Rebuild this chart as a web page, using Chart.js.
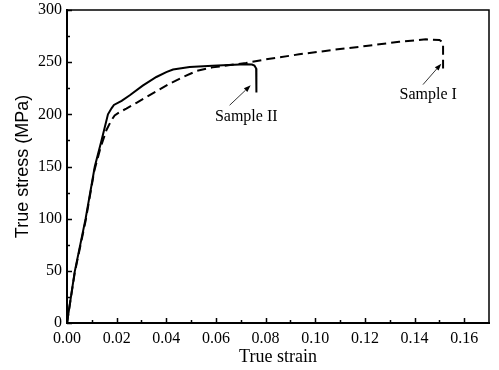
<!DOCTYPE html>
<html>
<head>
<meta charset="utf-8">
<script src="https://cdn.jsdelivr.net/npm/chart.js@4.4.1/dist/chart.umd.min.js"></script>
<style>
  html, body { margin: 0; padding: 0; background: #fff; }
  #wrap { width: 499px; height: 370px; }
</style>
</head>
<body>
<div id="wrap"><canvas id="c" width="499" height="370"></canvas></div>
<script>
// ---- Data ----
const sampleIIStrain = [0, 0.0031, 0.0075, 0.0112, 0.0139, 0.0165, 0.0180, 0.0189, 0.0220, 0.0253, 0.0305, 0.0360, 0.0400, 0.0427, 0.0494, 0.0586, 0.0650, 0.0721, 0.0745, 0.0755, 0.0762, 0.0763];
const sampleIIStress = [0, 49, 100, 150, 175, 200, 206, 209, 213, 218.3, 227.5, 235.8, 240.5, 243, 245.3, 246.5, 247.3, 248, 247.8, 246.8, 244, 221];

const sampleIStrain = [0, 0.0031, 0.0075, 0.0110, 0.0135, 0.0159, 0.0178, 0.0192, 0.0215, 0.0239, 0.0280, 0.0320, 0.0367, 0.0414, 0.0470, 0.0521, 0.0586, 0.0650, 0.0721, 0.0801, 0.0935, 0.1070, 0.1204, 0.1338, 0.1446, 0.1500, 0.1512, 0.1515, 0.1515];
const sampleIStress = [0, 48, 98, 146, 168, 185, 194, 199, 202.5, 205.5, 211, 216.6, 223, 229.4, 236, 241.5, 245, 247, 249.2, 252.7, 257.5, 261.7, 265.5, 269.6, 271.9, 271.3, 269.5, 266, 244];

const xTickValues = [0, 0.02, 0.04, 0.06, 0.08, 0.10, 0.12, 0.14, 0.16];
const xMinorValues = [0.01, 0.03, 0.05, 0.07, 0.09, 0.11, 0.13, 0.15];
const yTickValues = [0, 50, 100, 150, 200, 250, 300];
const yMinorValues = [25, 75, 125, 175, 225, 275];

const xTitle = 'True strain';
const yTitle = 'True stress (MPa)';

// Annotation labels (data coordinates): [text, labelX, labelY, arrowFromX, arrowFromY, arrowToX, arrowToY]
const annotations = [
  ['Sample II', 0.0722, 197.5, 0.0655, 208.7, 0.0740, 227.8],
  ['Sample I', 0.1455, 218.5, 0.1434, 228.5, 0.1508, 248.6]
];

const toXY = (xs, ys) => xs.map((x, i) => ({ x: x, y: ys[i] }));

const frameAndTicks = {
  id: 'frameAndTicks',
  afterDatasetsDraw(chart) {
    const { ctx, chartArea: a, scales: { x, y } } = chart;
    ctx.save();
    ctx.strokeStyle = '#000';
    // top and right frame
    ctx.lineWidth = 1.5;
    ctx.beginPath();
    ctx.moveTo(a.left, a.top); ctx.lineTo(a.right, a.top); ctx.lineTo(a.right, a.bottom);
    ctx.stroke();
    // inside ticks
    ctx.lineWidth = 1.5;
    ctx.beginPath();
    xTickValues.forEach(v => { const px = Math.round(x.getPixelForValue(v)) + 0.5; ctx.moveTo(px, a.bottom); ctx.lineTo(px, a.bottom - 5); });
    xMinorValues.forEach(v => { const px = Math.round(x.getPixelForValue(v)) + 0.5; ctx.moveTo(px, a.bottom); ctx.lineTo(px, a.bottom - 3); });
    yTickValues.forEach(v => { const py = Math.round(y.getPixelForValue(v)) + 0.5; ctx.moveTo(a.left, py); ctx.lineTo(a.left + 5, py); });
    yMinorValues.forEach(v => { const py = Math.round(y.getPixelForValue(v)) + 0.5; ctx.moveTo(a.left, py); ctx.lineTo(a.left + 3, py); });
    ctx.stroke();

    // annotations
    ctx.fillStyle = '#000';
    ctx.font = '16px "Liberation Serif", "Times New Roman", serif';
    ctx.textAlign = 'center';
    ctx.textBaseline = 'middle';
    annotations.forEach(([t, lx, ly, fx, fy, tx, ty]) => {
      ctx.fillText(t, x.getPixelForValue(lx), y.getPixelForValue(ly));
      const x1 = x.getPixelForValue(fx), y1 = y.getPixelForValue(fy);
      const x2 = x.getPixelForValue(tx), y2 = y.getPixelForValue(ty);
      const ang = Math.atan2(y2 - y1, x2 - x1);
      const hl = 7, hw = 2.5;
      const bx = x2 - hl * Math.cos(ang), by = y2 - hl * Math.sin(ang);
      ctx.lineWidth = 0.8;
      ctx.beginPath(); ctx.moveTo(x1, y1); ctx.lineTo(bx, by); ctx.stroke();
      ctx.beginPath();
      ctx.moveTo(x2, y2);
      ctx.lineTo(bx + hw * Math.sin(ang), by - hw * Math.cos(ang));
      ctx.lineTo(bx - hw * Math.sin(ang), by + hw * Math.cos(ang));
      ctx.closePath(); ctx.fill();
    });
    ctx.restore();
  }
};

new Chart(document.getElementById('c'), {
  type: 'scatter',
  data: {
    datasets: [
      {
        label: 'Sample II',
        data: toXY(sampleIIStrain, sampleIIStress),
        showLine: true, borderColor: '#000', borderWidth: 2, pointRadius: 0,
        tension: 0, fill: false
      },
      {
        label: 'Sample I',
        data: toXY(sampleIStrain, sampleIStress),
        showLine: true, borderColor: '#000', borderWidth: 2, pointRadius: 0,
        borderDash: [9, 5], tension: 0, fill: false
      }
    ]
  },
  options: {
    responsive: false,
    animation: false,
    devicePixelRatio: 1,
    layout: { padding: { top: 10, right: 10, left: 0, bottom: 0 } },
    plugins: { legend: { display: false }, tooltip: { enabled: false } },
    scales: {
      x: {
        type: 'linear', min: 0, max: 0.17,
        afterBuildTicks: s => { s.ticks = xTickValues.map(v => ({ value: v })); },
        afterFit: s => { s.height = 47; s.paddingLeft = 0; s.paddingRight = 0; },
        grid: { display: false, drawTicks: false, tickLength: 0 },
        border: { display: true, color: '#000', width: 2 },
        ticks: {
          color: '#000', padding: 6, maxRotation: 0, autoSkip: false,
          font: { family: '"Liberation Serif", "Times New Roman", serif', size: 16 },
          callback: v => Number(v).toFixed(2)
        },
        title: {
          display: true, text: xTitle, color: '#000', padding: { top: 0, bottom: 2 },
          font: { family: '"Liberation Serif", "Times New Roman", serif', size: 18 }
        }
      },
      y: {
        type: 'linear', min: 0, max: 300,
        afterBuildTicks: s => { s.ticks = yTickValues.map(v => ({ value: v })); },
        afterFit: s => { s.width = 67; s.paddingTop = 0; s.paddingBottom = 0; },
        grid: { display: false, drawTicks: false, tickLength: 0 },
        border: { display: true, color: '#000', width: 2 },
        ticks: {
          color: '#000', padding: 5, autoSkip: false,
          font: { family: '"Liberation Serif", "Times New Roman", serif', size: 16 },
          callback: v => String(v)
        },
        title: {
          display: true, text: yTitle, color: '#000', padding: { top: 12, bottom: 0 },
          font: { family: '"Liberation Sans", Arial, sans-serif', size: 18 }
        }
      }
    }
  },
  plugins: [frameAndTicks]
});
</script>
</body>
</html>
